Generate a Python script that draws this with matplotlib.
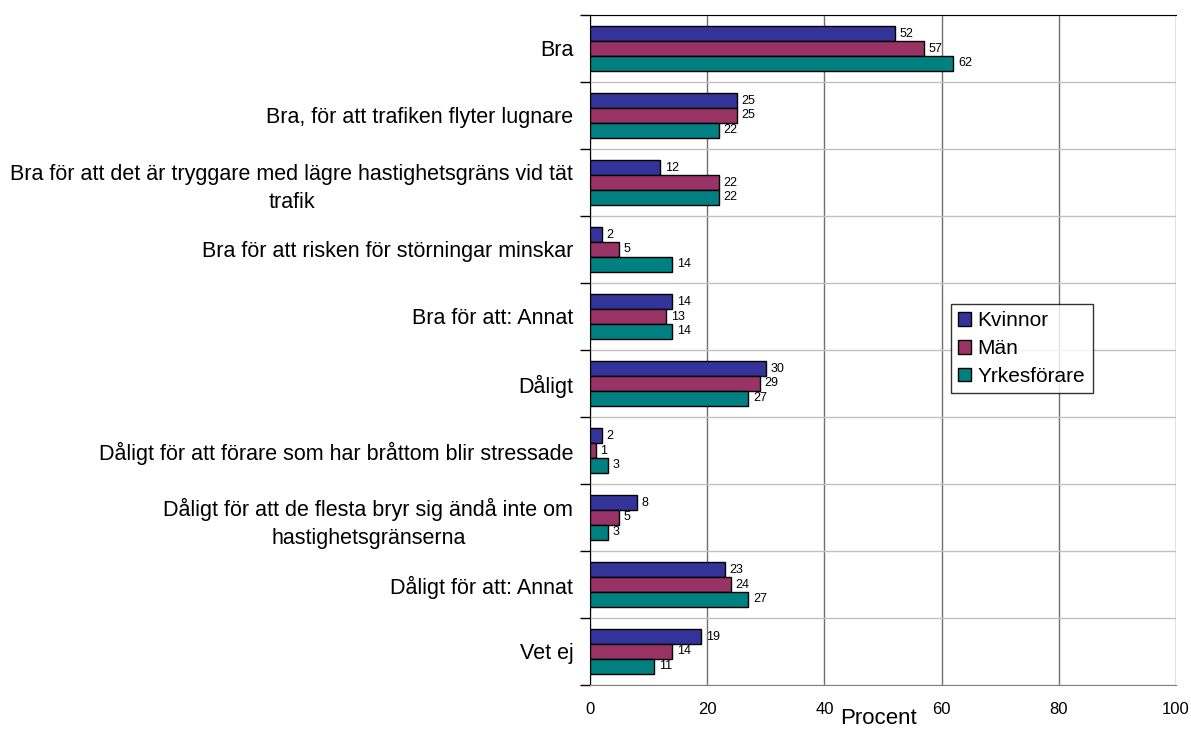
import numpy as np
import matplotlib.pyplot as plt

plt.rcParams['font.family'] = ['Liberation Sans', 'DejaVu Sans']

# Data
categories = [
    "Bra",
    "Bra, för att trafiken flyter lugnare",
    "Bra för att det är tryggare med lägre hastighetsgräns vid tät\ntrafik",
    "Bra för att risken för störningar minskar",
    "Bra för att: Annat",
    "Dåligt",
    "Dåligt för att förare som har bråttom blir stressade",
    "Dåligt för att de flesta bryr sig ändå inte om\nhastighetsgränserna",
    "Dåligt för att: Annat",
    "Vet ej",
]
series_names = ["Kvinnor", "Män", "Yrkesförare"]
kvinnor = [52, 25, 12, 2, 14, 30, 2, 8, 23, 19]
man = [57, 25, 22, 5, 13, 29, 1, 5, 24, 14]
yrkes = [62, 22, 22, 14, 14, 27, 3, 3, 27, 11]
colors = ["#333399", "#993366", "#008080"]
xticks = [0, 20, 40, 60, 80, 100]

fig = plt.figure(figsize=(11.91, 7.33), dpi=100)
ax = fig.add_axes([590/1191, 1 - 685/733, (1176 - 590)/1191, 670/733])

y = np.arange(len(categories))
h = 0.22
for k, (vals, name, c) in enumerate(zip([kvinnor, man, yrkes], series_names, colors)):
    pos = y + (k - 1) * h
    ax.barh(pos, vals, height=h, color=c, edgecolor="black", linewidth=1, label=name, zorder=3)
    for p, v in zip(pos, vals):
        ax.text(v + 0.8, p, str(v), va="center", ha="left", fontsize=9, zorder=4)

ax.set_xlim(0, 100)
ax.set_ylim(len(categories) - 0.5, -0.5)

ax.set_yticks(y)
ax.set_yticklabels(categories, fontsize=15.5, multialignment="center", linespacing=1.45)
ax.set_yticks(np.arange(len(categories) + 1) - 0.5, minor=True)
ax.tick_params(axis="y", which="major", length=0, pad=12)
ax.tick_params(axis="y", which="minor", length=7, width=1, direction="out")
ax.grid(axis="y", which="minor", color="#c0c0c0", linewidth=1, zorder=0)

ax.set_xticks(xticks)
ax.set_xticklabels([str(t) for t in xticks], fontsize=12)
ax.tick_params(axis="x", length=0, pad=12)
ax.grid(axis="x", which="major", color="#707070", linewidth=1, zorder=1)
ax.set_xlabel("Procent", fontsize=16, va="center")
ax.xaxis.set_label_coords((878 - 590) / 586, -(719 - 685) / 670)

ax.spines["right"].set_visible(False)
ax.spines["bottom"].set_color("#808080")
ax.spines["left"].set_color("black")
ax.spines["top"].set_color("black")

leg = ax.legend(loc="upper left", bbox_to_anchor=((951 - 590) / 586, 1 - (304 - 15) / 670),
                fontsize=15, frameon=True, fancybox=False, handlelength=0.63, handleheight=0.63,
                handletextpad=0.3, borderpad=0.35, labelspacing=0.42, borderaxespad=0)
leg.get_frame().set_edgecolor("black")
leg.get_frame().set_linewidth(1)

fig.savefig("out.png", dpi=100)
